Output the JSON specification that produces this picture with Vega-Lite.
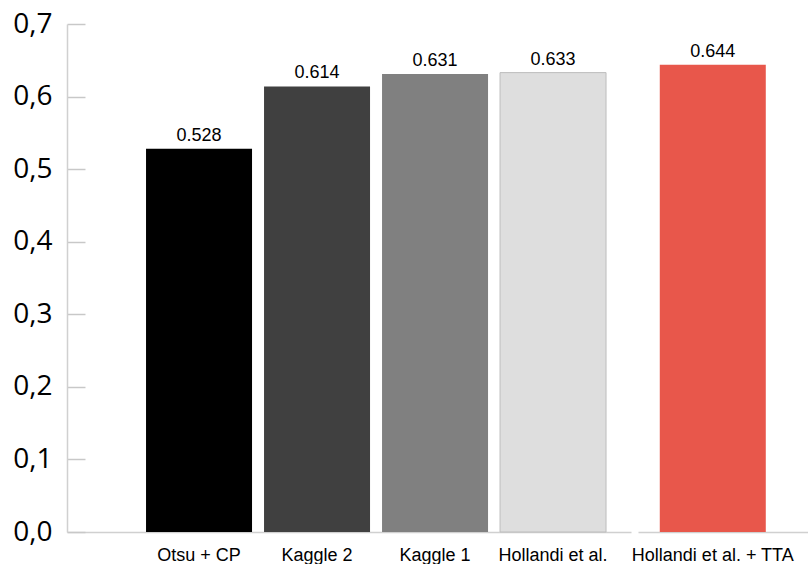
{
  "$schema": "https://vega.github.io/schema/vega-lite/v6.json",
  "padding": {"left": 12, "top": 10, "right": 0, "bottom": 0},
  "background": "white",
  "spacing": 0,
  "config": {"view": {"stroke": null}},
  "data": {
    "values": [
      {"method": "Otsu + CP", "group": "baselines", "score": 0.528, "color": "#000000"},
      {"method": "Kaggle 2", "group": "baselines", "score": 0.614, "color": "#404040"},
      {"method": "Kaggle 1", "group": "baselines", "score": 0.631, "color": "#808080"},
      {"method": "Hollandi et al.", "group": "baselines", "score": 0.633, "color": "#dedede"},
      {"method": "Hollandi et al. + TTA", "group": "proposed", "score": 0.644, "color": "#e8574b"}
    ]
  },
  "resolve": {"scale": {"x": "independent"}},
  "hconcat": [
    {
      "width": 564,
      "height": 508,
      "transform": [{"filter": "datum.group === 'baselines'"}],
      "encoding": {
        "x": {
          "field": "method",
          "type": "nominal",
          "sort": null,
          "scale": {"paddingInner": 0.1017, "paddingOuter": 0.4406, "align": 0.76},
          "axis": {
            "title": null,
            "labelAngle": 0,
            "ticks": false,
            "domainColor": "#d0d0d0",
            "domainWidth": 1.5,
            "labelFont": "Liberation Sans",
            "labelFontSize": 18,
            "labelColor": "#000000",
            "labelPadding": 14
          }
        },
        "y": {
          "field": "score",
          "type": "quantitative",
          "scale": {"domain": [0, 0.7], "nice": false},
          "axis": {
            "title": null,
            "values": [0, 0.1, 0.2, 0.3, 0.4, 0.5, 0.6, 0.7],
            "labelExpr": "replace(format(datum.value, '.1f'), '.', ',')",
            "grid": false,
            "domainColor": "#d0d0d0",
            "domainWidth": 1.5,
            "tickColor": "#c8c8c8",
            "tickSize": -18,
            "tickWidth": 1.5,
            "labelFont": "Open Sans",
            "labelFontSize": 28,
            "labelColor": "#000000",
            "labelPadding": 33
          }
        }
      },
      "layer": [
        {
          "mark": {"type": "bar", "strokeWidth": 1},
          "encoding": {
            "color": {"field": "color", "type": "nominal", "scale": null, "legend": null},
            "stroke": {
              "condition": {"test": "datum.method === 'Hollandi et al.'", "value": "#bdbdbd"},
              "value": null
            }
          }
        },
        {
          "mark": {"type": "text", "baseline": "bottom", "dy": -4, "font": "Liberation Sans", "fontSize": 18, "color": "#000000"},
          "encoding": {
            "text": {"field": "score", "type": "quantitative", "format": ".3f"}
          }
        }
      ]
    },
    {
      "width": 172,
      "height": 508,
      "transform": [{"filter": "datum.group === 'proposed'"}],
      "encoding": {
        "x": {
          "field": "method",
          "type": "nominal",
          "sort": null,
          "scale": {"paddingInner": 0, "paddingOuter": 0.3113, "align": 0.33},
          "axis": {
            "title": null,
            "labelAngle": 0,
            "ticks": false,
            "domainColor": "#d0d0d0",
            "domainWidth": 1.5,
            "labelFont": "Liberation Sans",
            "labelFontSize": 18,
            "labelColor": "#000000",
            "labelPadding": 14
          }
        },
        "y": {
          "field": "score",
          "type": "quantitative",
          "scale": {"domain": [0, 0.7], "nice": false},
          "axis": null
        }
      },
      "layer": [
        {
          "mark": {"type": "bar"},
          "encoding": {
            "color": {"field": "color", "type": "nominal", "scale": null, "legend": null}
          }
        },
        {
          "mark": {"type": "text", "baseline": "bottom", "dy": -4, "font": "Liberation Sans", "fontSize": 18, "color": "#000000"},
          "encoding": {
            "text": {"field": "score", "type": "quantitative", "format": ".3f"}
          }
        }
      ]
    }
  ]
}
